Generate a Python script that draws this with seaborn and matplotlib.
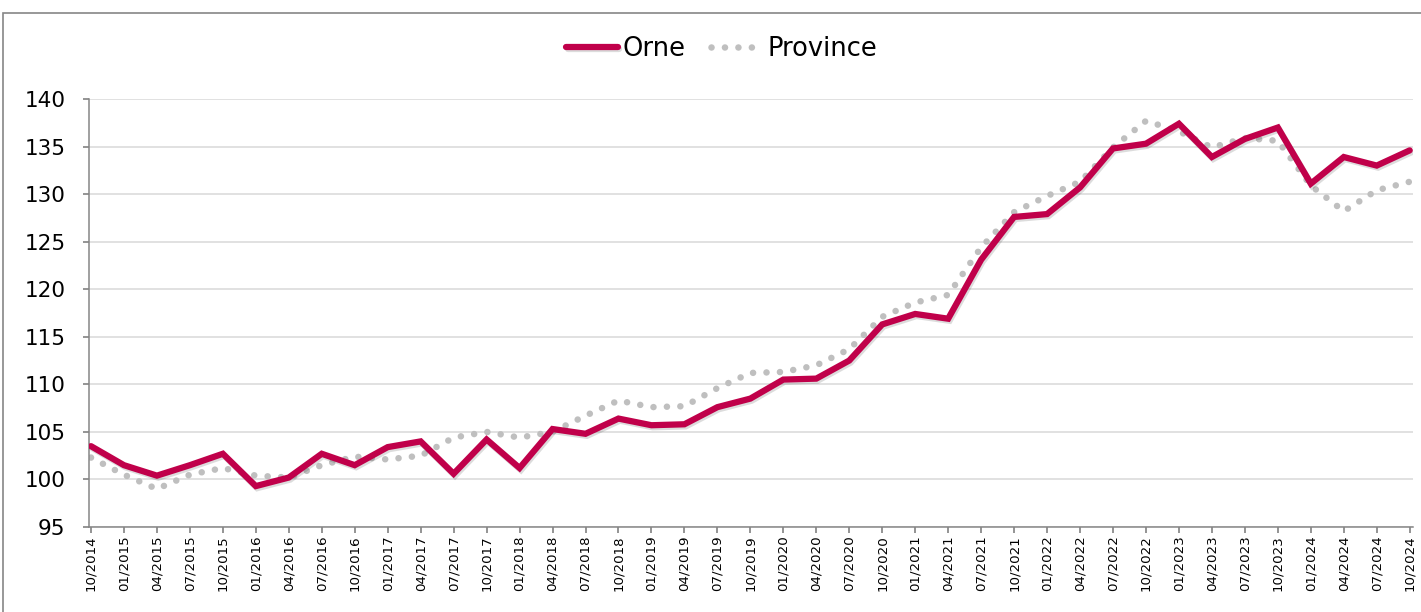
#!/usr/bin/env python3
"""Orne vs Province price index, quarterly 10/2014 - 10/2024."""
import matplotlib
matplotlib.use('Agg')
import matplotlib.pyplot as plt
import matplotlib.patheffects as pe
import seaborn as sns
import numpy as np
import pandas as pd

quarters = [
    "10/2014", "01/2015", "04/2015", "07/2015", "10/2015",
    "01/2016", "04/2016", "07/2016", "10/2016",
    "01/2017", "04/2017", "07/2017", "10/2017",
    "01/2018", "04/2018", "07/2018", "10/2018",
    "01/2019", "04/2019", "07/2019", "10/2019",
    "01/2020", "04/2020", "07/2020", "10/2020",
    "01/2021", "04/2021", "07/2021", "10/2021",
    "01/2022", "04/2022", "07/2022", "10/2022",
    "01/2023", "04/2023", "07/2023", "10/2023",
    "01/2024", "04/2024", "07/2024", "10/2024",
]
orne = [
    103.5, 101.5, 100.4, 101.5, 102.7,
    99.3, 100.2, 102.7, 101.5,
    103.4, 104.0, 100.6, 104.2,
    101.2, 105.3, 104.8, 106.4,
    105.7, 105.8, 107.6, 108.5,
    110.5, 110.6, 112.5, 116.3,
    117.4, 116.9, 123.1, 127.6,
    127.9, 130.7, 134.8, 135.3,
    137.4, 133.9, 135.8, 137.0,
    131.1, 133.9, 133.0, 134.6,
]
province = [
    102.3, 100.5, 99.0, 100.5, 101.2,
    100.4, 100.2, 101.5, 102.4,
    102.1, 102.5, 104.4, 105.0,
    104.4, 105.0, 106.7, 108.3,
    107.6, 107.7, 109.6, 111.2,
    111.3, 112.0, 113.7, 117.1,
    118.6, 119.4, 124.4, 128.1,
    129.8, 131.3, 134.9, 137.7,
    136.6, 134.9, 135.9, 135.6,
    130.9, 128.2, 130.4, 131.3,
]

ORNE_COLOR = '#C0004A'
PROV_COLOR = '#BFBFBF'
GRID_COLOR = '#D9D9D9'
AXIS_COLOR = '#868686'
DOTS = (0, (0.01, 2.05))

df = pd.DataFrame({"pos": np.arange(len(quarters)), "Orne": orne, "Province": province})

sns.set_theme(style="white")
plt.rcParams['font.family'] = ['DejaVu Sans']
plt.rcParams['text.color'] = 'black'
plt.rcParams['xtick.color'] = 'black'
plt.rcParams['ytick.color'] = 'black'

fig = plt.figure(figsize=(14.21, 6.12), dpi=100)
ax = fig.add_axes([89 / 1421, 1 - 527 / 612, (1413 - 89) / 1421, (527 - 99) / 612])

# outer chart frame
fig.patches.append(plt.Rectangle((3 / 1421, -0.01), 1.02, 1 - 13 / 612 + 0.01,
                                 transform=fig.transFigure, fill=False,
                                 edgecolor=AXIS_COLOR, linewidth=1.2))

sns.lineplot(data=df, x="pos", y="Province", ax=ax, color=PROV_COLOR,
             linewidth=4.7, label="Province", zorder=2)
sns.lineplot(data=df, x="pos", y="Orne", ax=ax, color=ORNE_COLOR,
             linewidth=4.5, label="Orne", zorder=3)

lines = ax.get_lines()
lines[0].set_linestyle(DOTS)
lines[0].set_dash_capstyle('round')
lines[1].set_solid_joinstyle('miter')
lines[1].set_path_effects([pe.SimpleLineShadow(offset=(1, -1.5), alpha=0.15),
                           pe.Normal()])

ax.set_ylim(95, 140)
ax.set_yticks(np.arange(95, 141, 5))
ax.set_xlim(-0.06, len(quarters) - 1 + 0.1)
ax.set_xticks(df["pos"])
ax.set_xticklabels(quarters, rotation=90, fontsize=9.6)
ax.tick_params(axis='y', labelsize=15.5, length=4, color=AXIS_COLOR, left=True, pad=13)
ax.tick_params(axis='x', length=4, color=AXIS_COLOR, bottom=True, pad=2)
ax.set_xlabel("")
ax.set_ylabel("")

ax.yaxis.grid(True, color=GRID_COLOR, linewidth=1.1)
ax.xaxis.grid(False)
for side in ['top', 'right']:
    ax.spines[side].set_visible(False)
for side in ['left', 'bottom']:
    ax.spines[side].set_color(AXIS_COLOR)
    ax.spines[side].set_linewidth(1.1)

# legend: Orne first, then Province
handles, labels = ax.get_legend_handles_labels()
order = [labels.index("Orne"), labels.index("Province")]
leg = ax.legend([handles[i] for i in order], [labels[i] for i in order],
                loc='center', bbox_to_anchor=(0.508, 1 - 49 / 612), bbox_transform=fig.transFigure,
                ncol=2, frameon=False, fontsize=18.5, handlelength=2.0,
                handletextpad=0.2, columnspacing=1.0)
leg.get_lines()[1].set_linestyle(DOTS)
leg.get_lines()[1].set_dash_capstyle('round')

fig.savefig('out.png', dpi=100)
plt.close(fig)
